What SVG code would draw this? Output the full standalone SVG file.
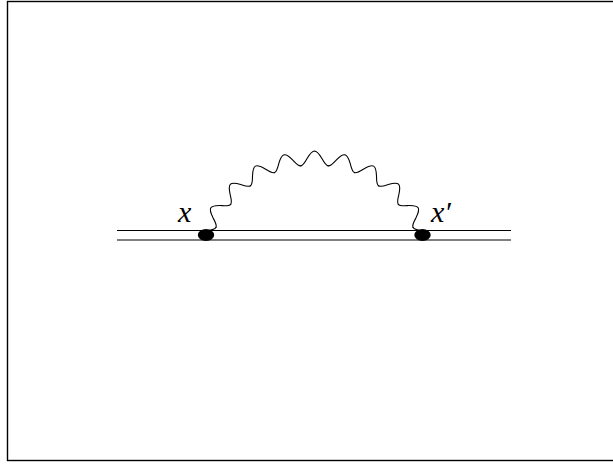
<svg xmlns="http://www.w3.org/2000/svg" xmlns:xlink="http://www.w3.org/1999/xlink" width="613" height="464" viewBox="0 0 613 464">
<style>
.frame{fill:none;stroke:#000;stroke-width:1.4}
.fermion{stroke:#000;stroke-width:1.1;fill:none}
.photon{fill:none;stroke:#000;stroke-width:1.1;stroke-linecap:round;stroke-linejoin:round}
.vertex{fill:#000}
.lbl{font-family:"Liberation Serif","Times New Roman",serif;font-style:italic;font-size:30px;fill:#000}
</style>
<defs>
<path id="wave" class="photon" d="M-13.622,-108.145 C-11.171,-108.454 -9.379,-111.932 -7.263,-115.773 C-4.991,-119.572 -2.776,-122.969 0,-123 C2.776,-122.969 4.991,-119.572 7.263,-115.773 C9.379,-111.932 11.171,-108.454 13.622,-108.145"/>
<path id="seg1" class="photon" d="M-13.622,-108.145 C-11.171,-108.454 -9.379,-111.932 -7.263,-115.773"/>
<path id="seg4" class="photon" d="M7.263,-115.773 C9.379,-111.932 11.171,-108.454 13.622,-108.145"/>
</defs>
<rect class="frame" x="7.5" y="1.5" width="620" height="459"/>
<g id="connectors">
<line class="fermion" x1="117" y1="230.5" x2="511" y2="230.5"/>
<line class="fermion" x1="117" y1="240" x2="511" y2="240"/>
<g id="photon" transform="translate(314.5,274)">
<use xlink:href="#seg4" transform="rotate(-71.8)"/>
<use xlink:href="#wave" transform="rotate(-57.44)"/>
<use xlink:href="#wave" transform="rotate(-43.08)"/>
<use xlink:href="#wave" transform="rotate(-28.72)"/>
<use xlink:href="#wave" transform="rotate(-14.36)"/>
<use xlink:href="#wave"/>
<use xlink:href="#wave" transform="rotate(14.36)"/>
<use xlink:href="#wave" transform="rotate(28.72)"/>
<use xlink:href="#wave" transform="rotate(43.08)"/>
<use xlink:href="#wave" transform="rotate(57.44)"/>
<use xlink:href="#seg1" transform="rotate(71.8)"/>
</g>
</g>
<g id="vertex-x">
<ellipse class="vertex" cx="206" cy="235" rx="8.2" ry="6"/>
<text class="lbl" x="178" y="221.5">x</text>
</g>
<g id="vertex-xprime">
<ellipse class="vertex" cx="422.5" cy="235" rx="8.2" ry="6"/>
<text class="lbl" x="431" y="221.5">x′</text>
</g>
</svg>
